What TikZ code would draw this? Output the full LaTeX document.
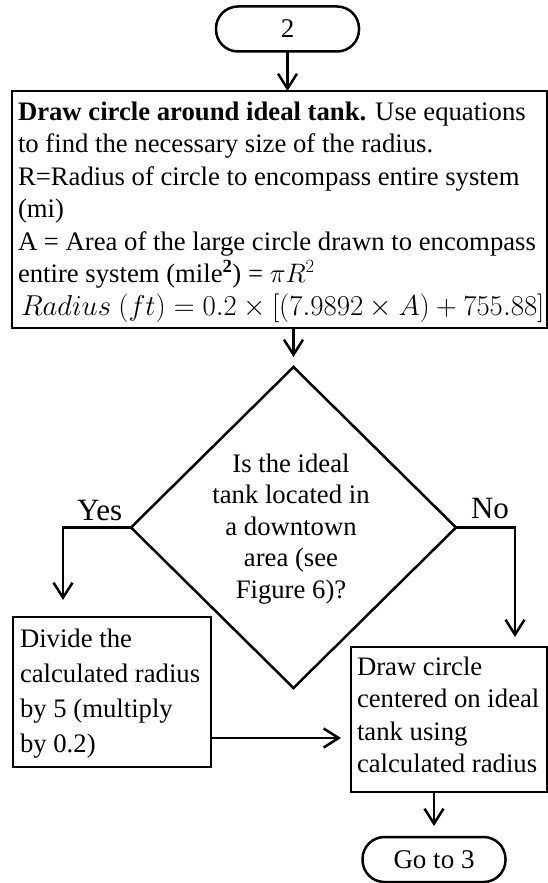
\RequirePackage{fix-cm}
\documentclass[tikz,border=0pt]{standalone}
\usepackage{fontspec}
\setmainfont{Liberation Serif}
\usetikzlibrary{arrows.meta,shapes.geometric}
\begin{document}
\begin{tikzpicture}[x=1pt,y=-1pt,line width=2.5pt,
  every node/.style={outer sep=0pt},
  box/.style={draw,rectangle,inner sep=0pt},
  term/.style={draw,rectangle,rounded corners=22pt,minimum width=143pt,minimum height=45pt,inner sep=0pt,font=\fontsize{27}{30}\selectfont},
  txt/.style={inner sep=0pt,align=left,anchor=base west,font=\fontsize{26.7}{32.5}\selectfont},
  lab/.style={inner sep=0pt,anchor=base west,font=\fontsize{31}{34}\selectfont},
  arr/.style={-{Straight Barb[length=15pt,width=19pt]}}]
\useasboundingbox (0,0) rectangle (548,883);
% nodes
\node[term] (t2) at (287.5,29) {2};
\node[box,minimum width=535.5pt,minimum height=237pt] (b1) at (279.75,209.5) {};
\node[txt] (b1t) at (18,315) {\textbf{Draw circle around ideal tank.} Use equations\\
to find the necessary size of the radius.\\
R=Radius of circle to encompass entire system\\
(mi)\\
A = Area of the large circle drawn to encompass\\
entire system (mile\textsuperscript{\textbf{2}}) = $\pi R^2$\\
\hspace*{3pt}{\fontsize{28.8}{32.5}\selectfont$Radius\ (ft) = 0.2 \times [(7.9892 \times A) + 755.88]$}};
\node[draw,diamond,aspect=1,minimum width=325pt,minimum height=321pt,inner sep=0pt] (q) at (293.5,527.5) {};
\node[inner sep=0pt,align=center,anchor=base,font=\fontsize{26.7}{31.5}\selectfont] (qt) at (291,598) {Is the ideal\\tank located in\\a downtown\\area (see\\Figure 6)?};
\node[lab] (yes) at (77,520) {Yes};
\node[lab] (no) at (471,518) {No};
\node[box,minimum width=198pt,minimum height=150pt] (lb) at (112,692) {};
\node[txt,font=\fontsize{26.7}{35}\selectfont] (lbt) at (20,752) {Divide the\\calculated radius\\by 5 (multiply\\by 0.2)};
\node[box,minimum width=196.5pt,minimum height=145pt] (rb) at (449.25,719.5) {};
\node[txt] (rbt) at (357,772.5) {Draw circle\\centered on ideal\\tank using\\calculated radius};
\node[term] (t3) at (434,859.5) {Go to 3};
% connectors
\coordinate (ye) at (63,600);
\coordinate (ne) at (515,637);
\coordinate (he) at (341,738);
\draw[arr] (t2.south) -- (t2.south |- b1.north);
\draw[arr] (q.north |- b1.south) -- ([yshift=10pt]q.north);
\draw[arr] (q.west) -| (ye);
\draw[arr] (q.east) -| (ne);
\draw[arr] (lb.east |- he) -- (he);
\draw[arr] (t3.north |- rb.south) -- ([yshift=11pt]t3.north);
\end{tikzpicture}
\end{document}
